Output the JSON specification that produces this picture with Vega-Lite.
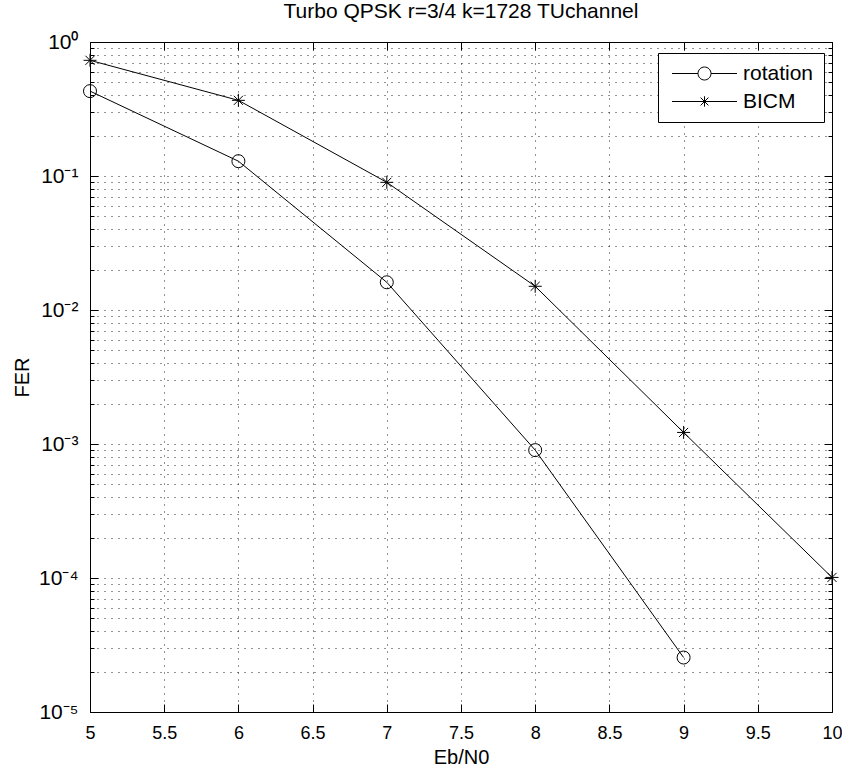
{
  "$schema": "https://vega.github.io/schema/vega-lite/v6.json",
  "width": 742,
  "height": 670,
  "autosize": {"type": "none"},
  "padding": {"left": 90, "top": 42, "right": 10, "bottom": 60},
  "background": "white",
  "title": {"text": "Turbo QPSK r=3/4 k=1728 TUchannel", "font": "Liberation Sans", "fontSize": 21, "fontWeight": "normal", "color": "black", "offset": 9},
  "config": {
    "view": {"stroke": "black", "strokeWidth": 1},
    "axis": {"labelFont": "Liberation Sans", "titleFont": "Liberation Sans", "labelColor": "black", "titleColor": "black", "titleFontWeight": "normal", "domainColor": "black", "tickColor": "black"}
  },
  "data": {"values": [
    {"ebn0": 5, "fer": 0.43, "series": "rotation"},
    {"ebn0": 6, "fer": 0.129, "series": "rotation"},
    {"ebn0": 7, "fer": 0.0161, "series": "rotation"},
    {"ebn0": 8, "fer": 0.0009, "series": "rotation"},
    {"ebn0": 9, "fer": 0.0000255, "series": "rotation"},
    {"ebn0": 5, "fer": 0.73, "series": "BICM"},
    {"ebn0": 6, "fer": 0.367, "series": "BICM"},
    {"ebn0": 7, "fer": 0.0897, "series": "BICM"},
    {"ebn0": 8, "fer": 0.01503, "series": "BICM"},
    {"ebn0": 9, "fer": 0.00122, "series": "BICM"},
    {"ebn0": 10, "fer": 0.000101, "series": "BICM"}
  ]},
  "layer": [
    {
      "mark": {"type": "line", "color": "black", "strokeWidth": 1},
      "encoding": {
        "x": {"field": "ebn0", "type": "quantitative", "scale": {"domain": [5, 10], "nice": false, "zero": false},
          "axis": {"orient": "bottom", "title": "Eb/N0", "titleFontSize": 20, "titlePadding": 5, "values": [5, 5.5, 6, 6.5, 7, 7.5, 8, 8.5, 9, 9.5, 10], "format": "~g", "labelFontSize": 18, "labelPadding": 20, "tickSize": -8, "grid": true, "gridColor": "black", "gridDash": [1, 6], "gridOpacity": 0.85, "domain": false, "labelFlush": false}},
        "y": {"field": "fer", "type": "quantitative", "scale": {"type": "log", "domain": [0.00001, 1], "nice": false},
          "axis": {"orient": "left", "title": "FER", "titleFontSize": 20, "titlePadding": 6,
            "values": [0.00001, 0.00002, 0.00003, 0.00004, 0.00005, 0.00006, 0.00007, 0.00008, 0.00009,
                       0.0001, 0.0002, 0.0003, 0.0004, 0.0005, 0.0006, 0.0007, 0.0008, 0.0009,
                       0.001, 0.002, 0.003, 0.004, 0.005, 0.006, 0.007, 0.008, 0.009,
                       0.01, 0.02, 0.03, 0.04, 0.05, 0.06, 0.07, 0.08, 0.09,
                       0.1, 0.2, 0.3, 0.4, 0.5, 0.6, 0.7, 0.8, 0.9, 1],
            "labelExpr": "abs(log(datum.value)/LN10 - round(log(datum.value)/LN10)) < 0.001 ? '10' + ['⁰','⁻¹','⁻²','⁻³','⁻⁴','⁻⁵'][-round(log(datum.value)/LN10)] : ''",
            "labelFontSize": 21, "labelPadding": 20,
            "tickSize": {"condition": {"test": "abs(log(datum.value)/LN10 - round(log(datum.value)/LN10)) < 0.001", "value": -8}, "value": -4},
            "grid": true, "gridColor": "black", "gridDash": [1, 6], "gridOpacity": 0.85, "domain": false, "labelOverlap": false}},
        "detail": {"field": "series"}
      }
    },
    {
      "mark": {"type": "point", "filled": false, "stroke": "black", "strokeWidth": 1, "size": 169, "opacity": 1},
      "encoding": {
        "x": {"field": "ebn0", "type": "quantitative", "axis": {"orient": "top", "labels": false, "title": null, "grid": false, "domain": false, "tickSize": -8, "values": [5, 5.5, 6, 6.5, 7, 7.5, 8, 8.5, 9, 9.5, 10]}},
        "y": {"field": "fer", "type": "quantitative",
          "axis": {"orient": "right", "labels": false, "title": null, "grid": false, "domain": false,
            "values": [0.00001, 0.00002, 0.00003, 0.00004, 0.00005, 0.00006, 0.00007, 0.00008, 0.00009,
                       0.0001, 0.0002, 0.0003, 0.0004, 0.0005, 0.0006, 0.0007, 0.0008, 0.0009,
                       0.001, 0.002, 0.003, 0.004, 0.005, 0.006, 0.007, 0.008, 0.009,
                       0.01, 0.02, 0.03, 0.04, 0.05, 0.06, 0.07, 0.08, 0.09,
                       0.1, 0.2, 0.3, 0.4, 0.5, 0.6, 0.7, 0.8, 0.9, 1],
            "tickSize": {"condition": {"test": "abs(log(datum.value)/LN10 - round(log(datum.value)/LN10)) < 0.001", "value": -8}, "value": -4}}},
        "shape": {"field": "series", "type": "nominal", "scale": {"domain": ["rotation", "BICM"], "range": ["circle", "M-1,0L1,0M0,-1L0,1M-0.7,-0.7L0.7,0.7M-0.7,0.7L0.7,-0.7"]}, "legend": null}
      }
    },
    {
      "mark": {"type": "point", "filled": false, "stroke": "black", "strokeWidth": 1, "size": 169, "opacity": 0},
      "encoding": {
        "x": {"field": "ebn0", "type": "quantitative", "axis": null},
        "y": {"field": "fer", "type": "quantitative", "axis": null},
        "shape": {"field": "series", "type": "nominal",
          "scale": {"domain": ["rotation", "BICM"], "range": ["M-5,0L-1,0M1,0L5,0M-1,0A1,1 0 1,0 1,0A1,1 0 1,0 -1,0", "M-5,0L5,0M0,-0.8L0,0.8M-0.6,-0.6L0.6,0.6M-0.6,0.6L0.6,-0.6"]},
          "legend": {"title": null, "orient": "none", "legendX": 568, "legendY": 11, "strokeColor": "black", "fillColor": "white", "padding": 10,
            "symbolOffset": 26, "labelOffset": 28, "labelFont": "Liberation Sans", "labelFontSize": 21, "labelColor": "black",
            "symbolStrokeColor": "black", "symbolStrokeWidth": 1, "symbolOpacity": 1, "symbolSize": 169, "rowPadding": 6, "symbolFillColor": "transparent"}}
      }
    }
  ],
  "resolve": {"scale": {"shape": "independent"}, "axis": {"x": "independent", "y": "independent"}}
}
